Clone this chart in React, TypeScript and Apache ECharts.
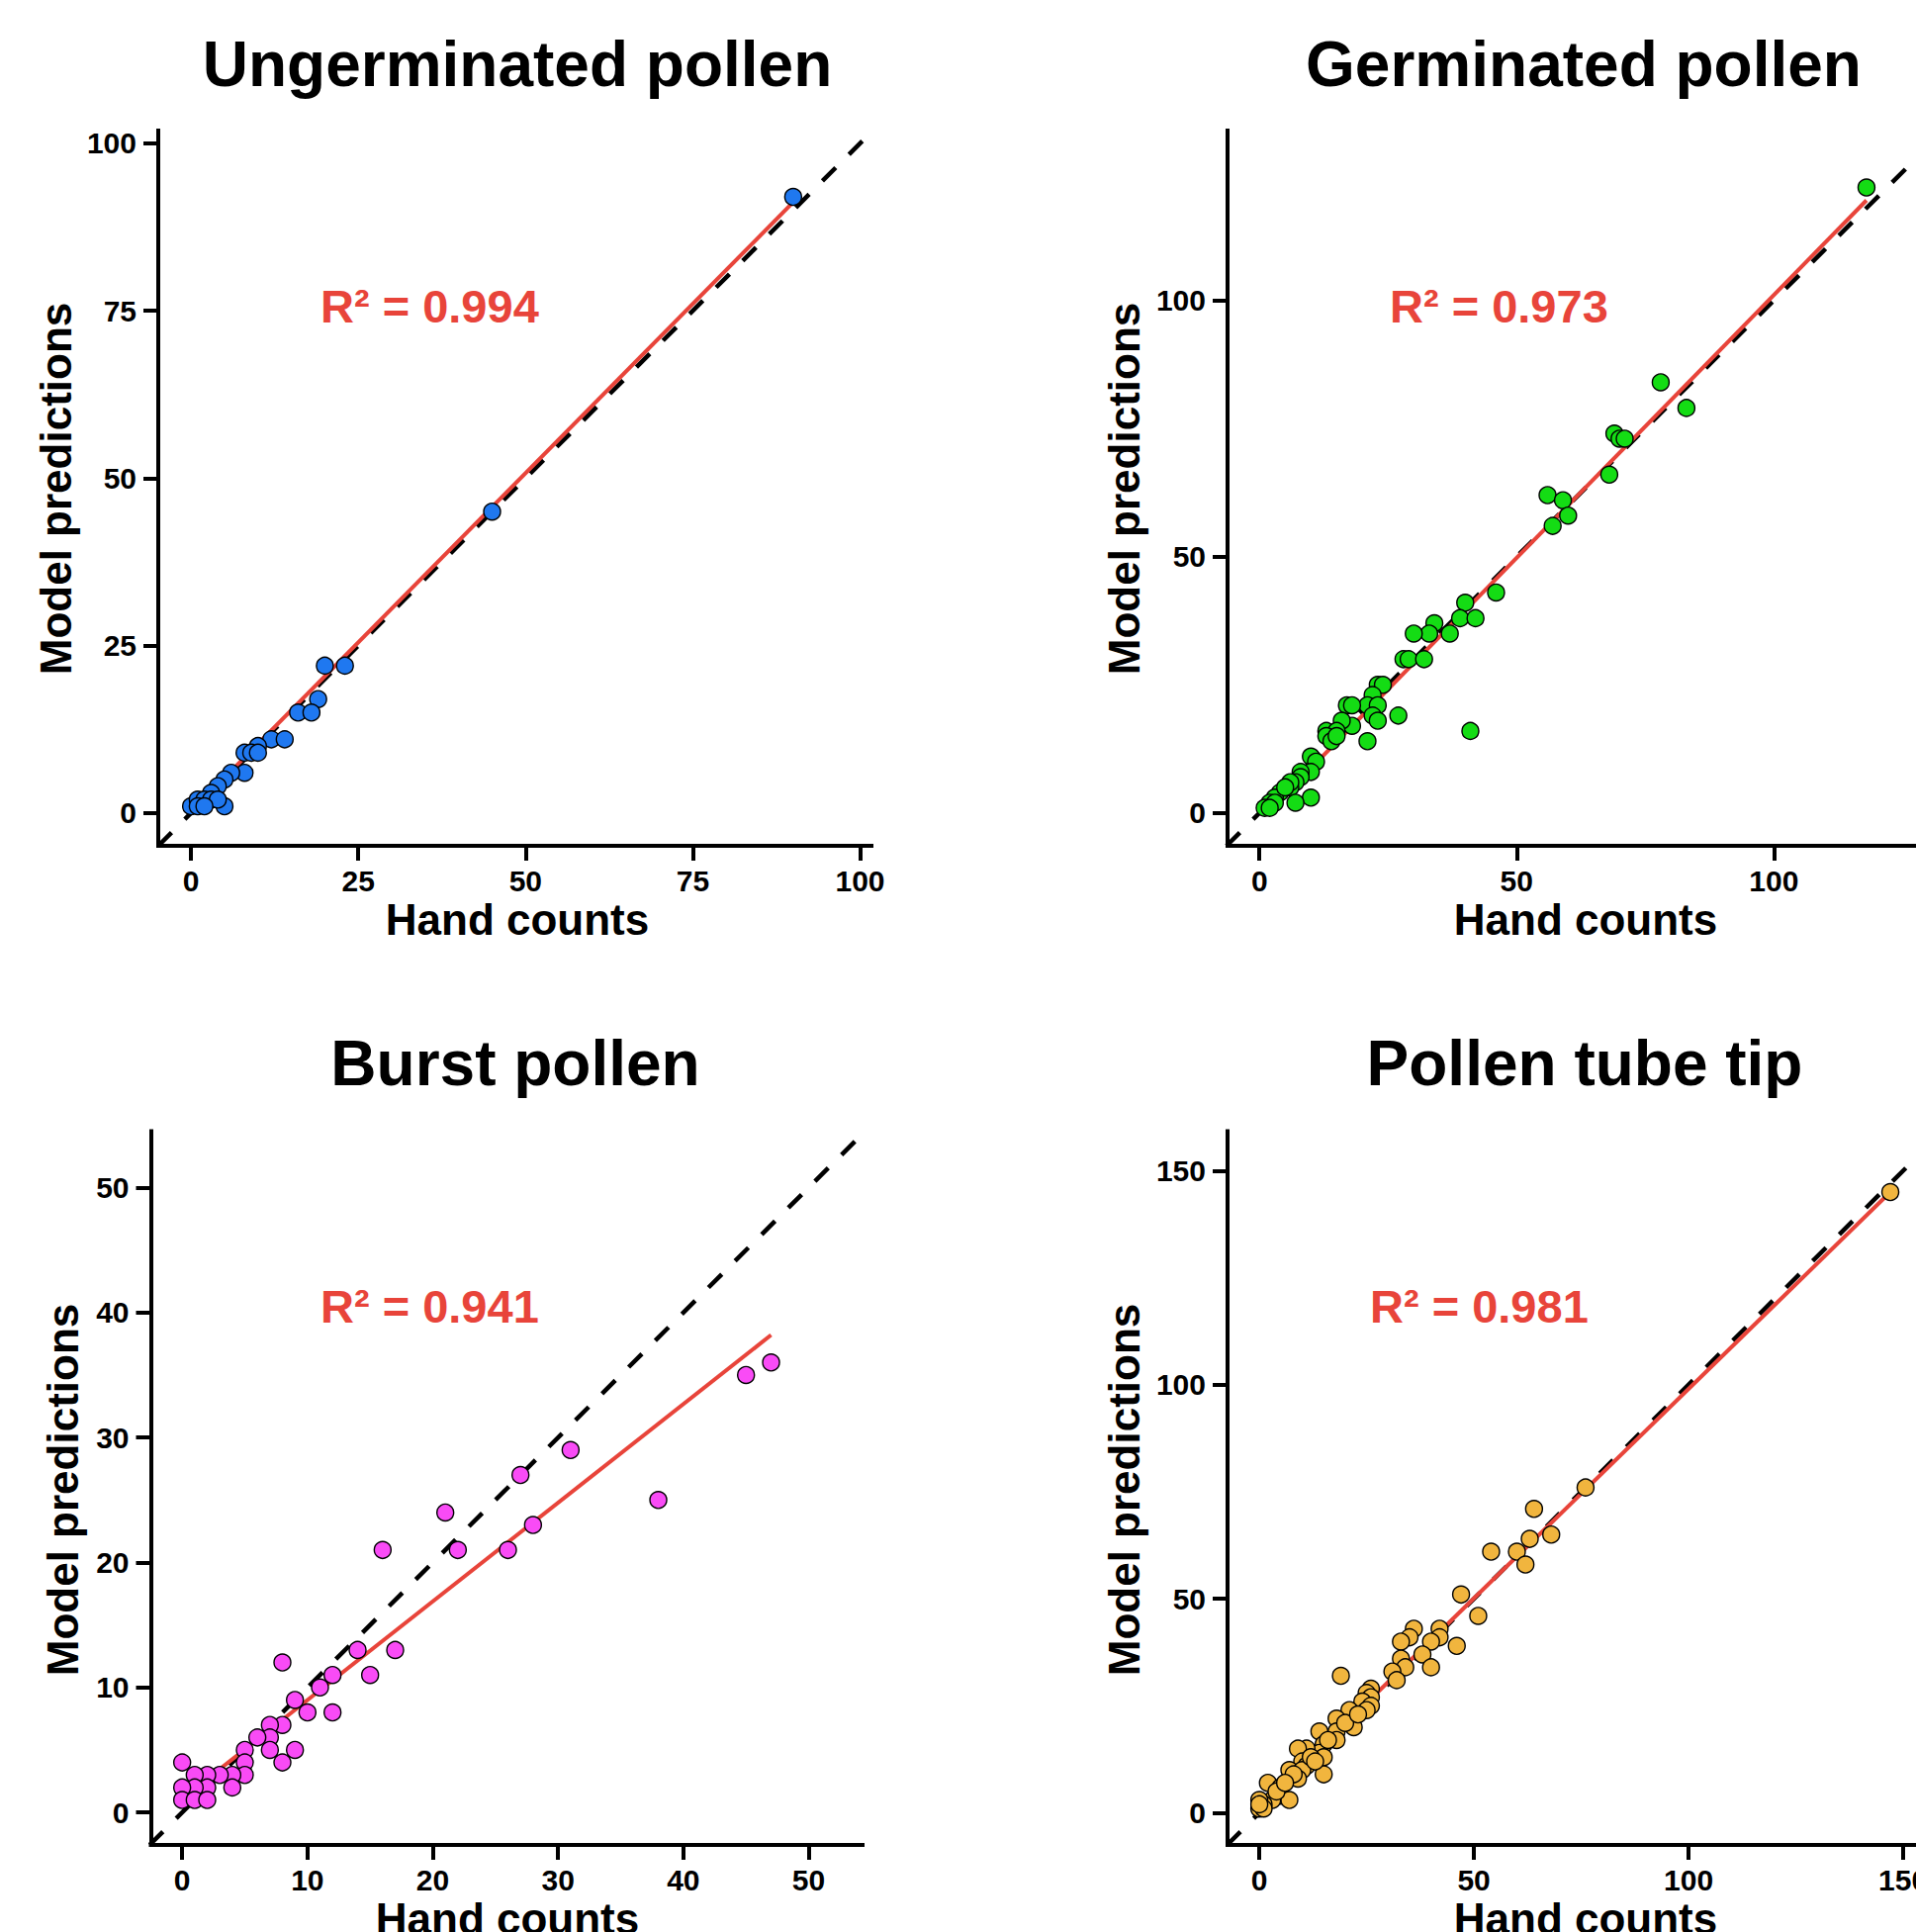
import React, { useEffect, useRef } from "react";
import * as echarts from "echarts";

const titles = ["Ungerminated pollen", "Germinated pollen", "Burst pollen", "Pollen tube tip"];
const r2Labels = ["R² = 0.994", "R² = 0.973", "R² = 0.941", "R² = 0.981"];
const xAxisName = "Hand counts";
const yAxisName = "Model predictions";

// [hand count, model prediction]
const ungerminatedPoints = [
  [90, 92], [45, 45], [20, 22], [23, 22], [19, 17], [16, 15], [18, 15], [12, 11], [14, 11],
  [10, 10], [8, 9], [9, 9], [10, 9], [8, 6], [6, 6], [5, 5], [4, 4], [3, 3], [5, 1], [0, 1],
  [1, 2], [2, 2], [3, 2], [4, 2], [1, 1], [2, 1],
];
const germinatedPoints = [
  [118, 122], [78, 84], [83, 79], [69, 74], [70, 73], [71, 73], [68, 66], [56, 62], [59, 61],
  [60, 58], [57, 56], [46, 43], [40, 41], [39, 38], [42, 38], [34, 37], [33, 35], [30, 35],
  [37, 35], [28, 30], [29, 30], [32, 30], [23, 25], [24, 25], [22, 23], [21, 21], [23, 21],
  [22, 19], [23, 18], [27, 19], [17, 21], [18, 21], [18, 17], [16, 18], [21, 14], [41, 16],
  [13, 16], [15, 16], [13, 15], [14, 14], [15, 15], [10, 11], [11, 10], [10, 8], [8, 8],
  [8, 7], [7, 6], [6, 5], [6, 6], [10, 3], [7, 2], [4, 4], [3, 3], [2, 2], [3, 2], [1, 1],
  [2, 1], [5, 5],
];
const burstPoints = [
  [47, 36], [45, 35], [38, 25], [31, 29], [27, 27], [28, 23], [26, 21], [21, 24], [22, 21],
  [16, 21], [14, 13], [17, 13], [15, 11], [12, 11], [11, 10], [8, 12], [9, 9], [10, 8],
  [12, 8], [8, 7], [7, 7], [7, 6], [6, 6], [7, 5], [9, 5], [5, 5], [5, 4], [8, 4], [5, 3],
  [4, 3], [3, 3], [4, 2], [2, 3], [1, 3], [2, 2], [1, 2], [0, 2], [0, 4], [0, 1], [1, 1],
  [2, 1],
];
const tubeTipPoints = [
  [147, 145], [76, 76], [64, 71], [68, 65], [63, 64], [60, 61], [54, 61], [62, 58], [47, 51],
  [51, 46], [36, 43], [42, 43], [35, 41], [42, 41], [33, 40], [40, 40], [46, 39], [38, 37],
  [33, 36], [34, 34], [40, 34], [31, 33], [32, 31], [19, 32], [26, 29], [25, 28], [26, 27],
  [24, 26], [26, 25], [25, 24], [21, 24], [22, 20], [18, 22], [18, 19], [18, 17], [14, 19],
  [15, 16], [14, 14], [15, 13], [15, 9], [11, 15], [9, 15], [10, 12], [11, 11], [7, 10],
  [10, 10], [9, 8], [8, 9], [2, 7], [5, 6], [5, 4], [7, 3], [3, 3], [1, 2], [0, 3], [0, 1],
  [1, 1], [0, 2], [12, 13], [13, 12], [16, 17], [20, 21], [23, 23], [4, 5], [6, 7],
];

// fitted regression line end points
const ungerminatedFit = [[0, 0.2], [90, 91.2]];
const germinatedFit = [[1, -0.5], [118, 119.5]];
const burstFit = [[0, 1.1], [47, 38.2]];
const tubeTipFit = [[0, 1.2], [147, 145]];

const ungerminatedTicks = [0, 25, 50, 75, 100];
const germinatedTicks = [0, 50, 100, 150];
const burstTicks = [0, 10, 20, 30, 40, 50];
const tubeTipTicks = [0, 50, 100, 150];

const pointColors = ["#1f78f0", "#14dc14", "#f94bf6", "#f1b53e"];
const fitColor = "#e8443a";

const FONT = "Liberation Sans";

const panels = [
  {
    points: ungerminatedPoints, fit: ungerminatedFit, ticks: ungerminatedTicks,
    left: 160, top: 132, width: 721, height: 723,
    xMin: -4.9, xMax: 101.7, yMin: -4.9, yMax: 101.9,
    titleX: 523, titleY: 65, xNameX: 523, xNameY: 929, yNameX: 56, yNameY: 494, r2X: 324, r2Y: 309,
  },
  {
    points: germinatedPoints, fit: germinatedFit, ticks: germinatedTicks,
    left: 1241, top: 132, width: 725, height: 723,
    xMin: -6.2, xMax: 133.2, yMin: -6.4, yMax: 133.1,
    titleX: 1601, titleY: 65, xNameX: 1603, xNameY: 929, yNameX: 1136, yNameY: 494, r2X: 1405, r2Y: 309,
  },
  {
    points: burstPoints, fit: burstFit, ticks: burstTicks,
    left: 152.5, top: 1143.6, width: 719.5, height: 721.4,
    xMin: -2.5, xMax: 54.3, yMin: -2.6, yMax: 54.5,
    titleX: 521, titleY: 1075, xNameX: 513, xNameY: 1939, yNameX: 63.5, yNameY: 1506, r2X: 324, r2Y: 1320,
  },
  {
    points: tubeTipPoints, fit: tubeTipFit, ticks: tubeTipTicks,
    left: 1241, top: 1143.6, width: 723, height: 721.4,
    xMin: -7.4, xMax: 159.2, yMin: -7.5, yMax: 159.2,
    titleX: 1602, titleY: 1075, xNameX: 1603, xNameY: 1939, yNameX: 1136, yNameY: 1506, r2X: 1385, r2Y: 1320,
  },
];

function axisCommon(ticks: number[]) {
  return {
    type: "value",
    axisLine: { show: true, onZero: false, lineStyle: { color: "#000", width: 4, cap: "square" } },
    axisTick: { show: true, inside: false, length: 15, lineStyle: { color: "#000", width: 4 }, customValues: ticks },
    axisLabel: {
      show: true, customValues: ticks, color: "#000", fontSize: 30, fontWeight: "bold", fontFamily: FONT,
      showMinLabel: true, showMaxLabel: true, hideOverlap: false,
    },
    splitLine: { show: false },
    splitArea: { show: false },
  };
}

function textEl(text: string, x: number, y: number, size: number, color: string, align: string, rotation = 0) {
  return {
    type: "text",
    x,
    y,
    rotation,
    z: 100,
    silent: true,
    style: {
      text,
      fill: color,
      fontSize: size,
      fontWeight: "bold",
      fontFamily: FONT,
      textAlign: align,
      align,
      textVerticalAlign: "middle",
      verticalAlign: "middle",
    },
  };
}

export default function App() {
  const ref = useRef<HTMLDivElement>(null);

  useEffect(() => {
    if (!ref.current) return;
    const chart = echarts.init(ref.current, null, { renderer: "svg" });

    const grid: any[] = [];
    const xAxis: any[] = [];
    const yAxis: any[] = [];
    const series: any[] = [];
    const graphic: any[] = [];

    panels.forEach((p, i) => {
      grid.push({ left: p.left, top: p.top, width: p.width, height: p.height, containLabel: false, outerBoundsMode: "none" });
      const xa: any = axisCommon(p.ticks);
      xAxis.push({ ...xa, gridIndex: i, min: p.xMin, max: p.xMax, axisLabel: { ...xa.axisLabel, margin: 20 } });
      const ya: any = axisCommon(p.ticks);
      yAxis.push({ ...ya, gridIndex: i, min: p.yMin, max: p.yMax, axisLabel: { ...ya.axisLabel, margin: 22 } });

      const lo = Math.min(p.xMin, p.yMin);
      const hi = Math.max(p.xMax, p.yMax);
      series.push({
        type: "line",
        xAxisIndex: i,
        yAxisIndex: i,
        data: [[lo, lo], [hi, hi]],
        symbol: "none",
        clip: true,
        silent: true,
        z: 1,
        lineStyle: { color: "#000", width: 4.5, type: [19, 19], cap: "butt" },
      });
      series.push({
        type: "line",
        xAxisIndex: i,
        yAxisIndex: i,
        data: p.fit,
        symbol: "none",
        clip: true,
        silent: true,
        z: 2,
        lineStyle: { color: fitColor, width: 4 },
      });
      series.push({
        type: "scatter",
        xAxisIndex: i,
        yAxisIndex: i,
        data: p.points,
        symbol: "circle",
        symbolSize: 17,
        z: 3,
        itemStyle: { color: pointColors[i], borderColor: "#000", borderWidth: 1.4, opacity: 1 },
      });

      graphic.push(textEl(titles[i], p.titleX, p.titleY, 64, "#000", "center"));
      graphic.push(textEl(xAxisName, p.xNameX, p.xNameY, 44, "#000", "center"));
      graphic.push(textEl(yAxisName, p.yNameX, p.yNameY, 44, "#000", "center", Math.PI / 2));
      graphic.push(textEl(r2Labels[i], p.r2X, p.r2Y, 47, fitColor, "left"));
    });

    chart.setOption({
      animation: false,
      backgroundColor: "#ffffff",
      grid,
      xAxis,
      yAxis,
      series,
      graphic,
    });

    return () => {
      chart.dispose();
    };
  }, []);

  return (
    <div
      ref={ref}
      style={{ position: "absolute", left: 0, top: 0, width: 1937, height: 1953, background: "#fff" }}
    />
  );
}
